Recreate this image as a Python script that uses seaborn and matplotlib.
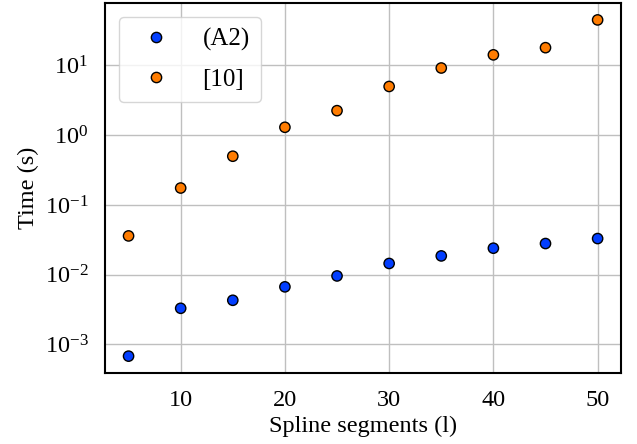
import seaborn as sns
import matplotlib.pyplot as plt
import pandas as pd

segments = [5, 10, 15, 20, 25, 30, 35, 40, 45, 50]
time_a2 = [0.00068, 0.0033, 0.0043, 0.0067, 0.0096, 0.0145, 0.0186, 0.024, 0.028, 0.033]
time_ref = [0.036, 0.175, 0.5, 1.3, 2.25, 5.0, 9.2, 14.2, 18.0, 45.0]
labels = ['(A2)', '[10]']

df = pd.concat([
    pd.DataFrame({'segments': segments, 'time': time_a2, 'method': labels[0]}),
    pd.DataFrame({'segments': segments, 'time': time_ref, 'method': labels[1]}),
])

sns.set_theme(style='whitegrid', palette='bright')
plt.rcParams['font.family'] = ['Liberation Serif', 'DejaVu Serif']
plt.rcParams['mathtext.fontset'] = 'stix'
plt.rcParams['text.color'] = 'black'
plt.rcParams['axes.labelcolor'] = 'black'
plt.rcParams['xtick.color'] = 'black'
plt.rcParams['ytick.color'] = 'black'

fig, ax = plt.subplots(figsize=(6.37, 4.44), dpi=100)
sns.scatterplot(data=df, x='segments', y='time', hue='method', s=55,
                edgecolor='black', linewidth=1, ax=ax)
ax.set_yscale('log')
ax.set_xlabel('Spline segments (l)', fontsize=17.5)
ax.set_ylabel('Time (s)', fontsize=17.5)
ax.tick_params(labelsize=17.5, pad=6)
ax.set_xticks([10, 20, 30, 40, 50])
for s in ax.spines.values():
    s.set_color('black')
    s.set_linewidth(1.5)
ax.grid(True, color='#bfbfbf', linewidth=1)
ax.legend(loc='upper left', fontsize=18, handletextpad=0.85, borderpad=0.45,
          labelspacing=0.68, borderaxespad=0.55, handlelength=2.05)
fig.subplots_adjust(left=0.165, right=0.975, top=0.993, bottom=0.16)
fig.savefig('out.png', dpi=100)
